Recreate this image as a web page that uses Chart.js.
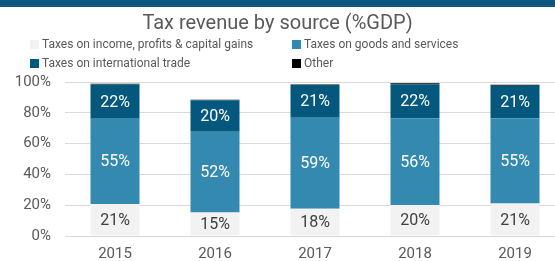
<!DOCTYPE html>
<html>
<head>
<meta charset="utf-8">
<script src="https://cdn.jsdelivr.net/npm/chart.js"></script>
<style>
  html, body { margin: 0; padding: 0; background: #fff; overflow: hidden; }
  body { width: 555px; height: 261px; position: relative; font-family: Roboto, sans-serif; }
  #banner { position: absolute; left: 0; top: 0; width: 555px; height: 7px; background: #0b5780; }
  #title { position: absolute; left: 0; top: 8px; width: 555px; text-align: center; font-size: 20px; color: #595959; line-height: 28px; }
  .lg { position: absolute; font-size: 12px; color: #595959; line-height: 16px; white-space: nowrap; }
  .lg i { display: inline-block; width: 9px; height: 9px; margin-right: 3px; vertical-align: -1px; }
  #wrap { position: absolute; left: 0; top: 0; width: 565px; height: 261px; }
</style>
</head>
<body>
<div id="wrap"><canvas id="taxChart" width="565" height="261"></canvas></div>
<div id="banner"></div>
<div id="title">Tax revenue by source (%GDP)</div>
<div id="legend"></div>
<script>
const years = ['2015', '2016', '2017', '2018', '2019'];
const income = [20.8, 15.3, 17.7, 20.2, 21.1];
const goods = [55.4, 52.4, 59.1, 56.2, 55.2];
const trade = [22.1, 20.4, 21.2, 22.1, 21.3];
const other = [0.6, 0.4, 0.4, 0.7, 0.6];
const yTicks = [0, 20, 40, 60, 80, 100];

const series = [
  { label: 'Taxes on income, profits & capital gains', data: income, color: '#f2f2f2', text: '#404040' },
  { label: 'Taxes on goods and services', data: goods, color: '#3489b0', text: '#ffffff' },
  { label: 'Taxes on international trade', data: trade, color: '#04587e', text: '#ffffff' },
  { label: 'Other', data: other, color: '#000000', text: null }
];

// legend laid out in two columns like the original
const legendPos = [[30, 36], [292, 36], [30, 55], [292, 55]];
const legendEl = document.getElementById('legend');
series.forEach((s, i) => {
  const d = document.createElement('div');
  d.className = 'lg';
  d.style.left = legendPos[i][0] + 'px';
  d.style.top = legendPos[i][1] + 'px';
  d.innerHTML = '<i style="background:' + s.color + '"></i>' + s.label;
  legendEl.appendChild(d);
});

// draws the rounded percent inside each segment
const segmentLabels = {
  id: 'segmentLabels',
  afterDatasetsDraw(chart) {
    const ctx = chart.ctx;
    ctx.save();
    ctx.font = '16px Roboto';
    ctx.textAlign = 'center';
    ctx.textBaseline = 'middle';
    chart.data.datasets.forEach((ds, i) => {
      if (!series[i].text) return;
      ctx.fillStyle = series[i].text;
      chart.getDatasetMeta(i).data.forEach((bar, j) => {
        const mid = (bar.y + bar.base) / 2;
        ctx.fillText(Math.round(ds.data[j]) + '%', bar.x, mid + 1);
      });
    });
    ctx.restore();
  }
};

const ctx = document.getElementById('taxChart').getContext('2d');
new Chart(ctx, {
  type: 'bar',
  data: {
    labels: years,
    datasets: series.map(s => ({
      label: s.label,
      data: s.data,
      backgroundColor: s.color,
      borderWidth: 0,
      categoryPercentage: 1,
      barPercentage: 0.49
    }))
  },
  options: {
    responsive: false,
    animation: false,
    layout: { padding: { top: 82, left: 0, right: 0, bottom: 0 } },
    plugins: {
      legend: { display: false },
      title: { display: false },
      tooltip: { enabled: false }
    },
    scales: {
      x: {
        stacked: true,
        afterFit: (axis) => { axis.height = 25; },
        grid: { display: false, drawTicks: false },
        border: { display: false },
        ticks: { color: '#595959', font: { family: 'Roboto', size: 15 }, padding: 9 }
      },
      y: {
        stacked: true,
        min: 0,
        max: 100,
        afterBuildTicks: (axis) => { axis.ticks = yTicks.map(v => ({ value: v })); },
        afterFit: (axis) => { axis.width = 65; },
        grid: { color: '#d9d9d9', drawTicks: false },
        border: { display: false },
        ticks: {
          color: '#595959',
          font: { family: 'Roboto', size: 15 },
          padding: 14,
          callback: v => v + '%'
        }
      }
    }
  },
  plugins: [segmentLabels]
});
</script>
</body>
</html>
